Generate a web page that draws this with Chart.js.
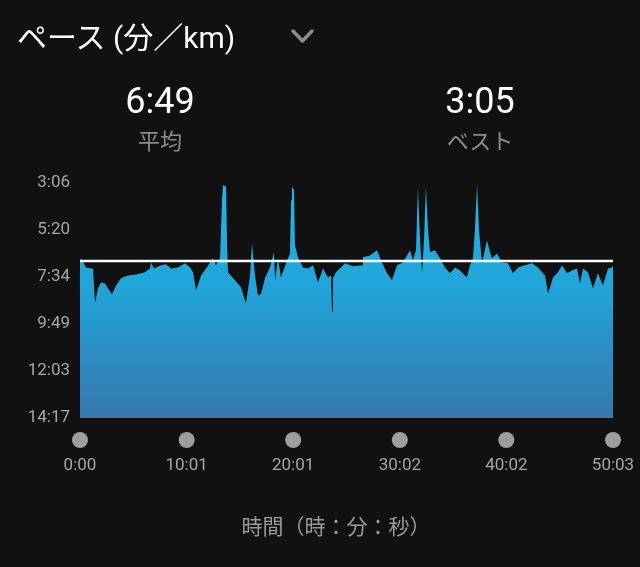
<!DOCTYPE html>
<html>
<head>
<meta charset="utf-8">
<script src="https://cdn.jsdelivr.net/npm/chart.js"></script>
<style>
	html, body { margin: 0; padding: 0; background: #111111; width: 640px; height: 567px; overflow: hidden; }
	body { position: relative; font-family: Roboto, "Noto Sans CJK JP", sans-serif; }
	#paceChart { position: absolute; left: 0; top: 0; }
	.txt { position: absolute; white-space: nowrap; }
	#title { left: 17px; top: 17px; font-size: 30px; line-height: 42px; color: #ffffff; }
	.big { font-size: 36px; line-height: 44px; top: 79px; color: #ffffff; width: 160px; text-align: center; }
	.sub { font-size: 22px; line-height: 30px; top: 127px; color: #8c8c8c; width: 160px; text-align: center; }
	#xTitle { font-size: 21px; line-height: 30px; top: 512px; left: 176px; width: 320px; text-align: center; color: #9a9a9a; }
</style>
</head>
<body>
<canvas id="paceChart" width="640" height="567"></canvas>
<div class="txt" id="title">ペース (分／km)</div>
<svg style="position:absolute;left:0;top:0" width="640" height="60">
	<polyline points="293,31 302.5,41 312,31" fill="none" stroke="#8c8c8c" stroke-width="3.5" stroke-linecap="round" stroke-linejoin="round"/>
</svg>
<div class="txt big" style="left:80px">6:49</div>
<div class="txt sub" style="left:80px">平均</div>
<div class="txt big" style="left:400px">3:05</div>
<div class="txt sub" style="left:400px">ベスト</div>
<div class="txt" id="xTitle">時間（時：分：秒）</div>
<script>
	//==============================================================
	//							DATA
	//==============================================================
	// elapsed time (seconds)
	var timeSec = [
		0, 6, 34, 62, 73, 85, 101, 118, 141, 158,
		180, 203, 231, 270, 316, 366, 394, 400, 417, 456,
		485, 513, 552, 592, 620, 637, 654, 682, 710, 749,
		766, 789, 800, 806, 823, 828, 834, 873, 907, 935,
		958, 969, 986, 1003, 1020, 1042, 1070, 1093, 1099, 1116,
		1132, 1161, 1183, 1189, 1194, 1206, 1211, 1228, 1256, 1285,
		1313, 1341, 1369, 1397, 1414, 1420, 1425, 1442, 1470, 1493,
		1538, 1589, 1594, 1634, 1673, 1701, 1730, 1758, 1786, 1820,
		1859, 1876, 1893, 1904, 1916, 1927, 1938, 1949, 1961, 1972,
		2000, 2028, 2056, 2085, 2113, 2141, 2180, 2197, 2214, 2225,
		2237, 2248, 2265, 2293, 2310, 2321, 2349, 2378, 2411, 2440,
		2468, 2507, 2547, 2580, 2620, 2637, 2665, 2693, 2716, 2744,
		2772, 2800, 2817, 2834, 2862, 2890, 2918, 2946, 2975, 2997,
		3003
	];

	// pace (seconds per km)
	var paceSec = [
		413, 401, 427, 430, 430, 527, 487, 470, 473, 487,
		504, 479, 458, 450, 447, 441, 430, 413, 430, 421,
		418, 430, 427, 415, 427, 441, 493, 450, 430, 401,
		421, 401, 235, 192, 197, 350, 441, 464, 484, 530,
		450, 358, 450, 507, 502, 458, 427, 384, 464, 401,
		456, 415, 387, 235, 197, 206, 364, 398, 427, 430,
		421, 470, 430, 456, 450, 556, 458, 441, 427, 415,
		424, 421, 398, 393, 378, 413, 444, 464, 421, 413,
		378, 407, 378, 200, 350, 444, 350, 197, 321, 384,
		378, 401, 427, 444, 427, 436, 456, 421, 401, 321,
		189, 321, 415, 350, 384, 401, 387, 413, 415, 444,
		427, 421, 415, 427, 450, 502, 456, 441, 421, 444,
		436, 430, 473, 430, 441, 487, 444, 479, 430, 427,
		421
	];

	var avgPace = 409;	// 6:49
	var xTickValues = [0, 601, 1201, 1802, 2402, 3003];
	var yTickValues = [186, 320, 454, 589, 723, 857];

	// m:ss
	function fmt(s) {
		var m = Math.floor(s / 60), r = Math.round(s % 60);
		return m + ':' + (r < 10 ? '0' : '') + r;
	}

	var paceData = timeSec.map(function(t, i) { return { x: t, y: paceSec[i] }; });
	var avgData = [
		{ x: xTickValues[0], y: avgPace },
		{ x: xTickValues[xTickValues.length - 1], y: avgPace }
	];

	//==============================================================
	//							PLUGINS
	//==============================================================
	// grey dots under each x tick
	var tickDots = {
		id: 'tickDots',
		afterDraw: function(chart) {
			var ctx = chart.ctx;
			var xs = chart.scales.x;
			var y = chart.chartArea.bottom + 22;
			ctx.save();
			ctx.fillStyle = '#9e9e9e';
			xs.ticks.forEach(function(t) {
				ctx.beginPath();
				ctx.arc(xs.getPixelForValue(t.value), y, 8, 0, Math.PI * 2);
				ctx.fill();
			});
			ctx.restore();
		}
	};

	//==============================================================
	//							CHART
	//==============================================================
	var paceChart = new Chart(document.getElementById('paceChart'), {
		type: 'line',
		data: {
			datasets: [{
				data: avgData,
				borderColor: '#ffffff',
				borderWidth: 2.5,
				pointRadius: 0,
				fill: false,
				order: 0
			}, {
				data: paceData,
				borderWidth: 0,
				pointRadius: 0,
				tension: 0,
				fill: 'start',
				backgroundColor: function(context) {
					var area = context.chart.chartArea;
					if (!area) return null;
					var g = context.chart.ctx.createLinearGradient(0, area.top, 0, area.bottom);
					g.addColorStop(0, '#24b4e4');
					g.addColorStop(0.45, '#22a4d9');
					g.addColorStop(1, '#3677ad');
					return g;
				},
				order: 1
			}]
		},
		options: {
			responsive: false,
			animation: false,
			layout: {
				padding: { top: 183, right: 27, bottom: 0, left: 0 }
			},
			plugins: {
				legend: { display: false },
				tooltip: { enabled: false }
			},
			scales: {
				x: {
					type: 'linear',
					min: 0,
					max: 3003,
					grid: { display: false, drawTicks: false },
					border: { display: false },
					afterBuildTicks: function(scale) {
						scale.ticks = xTickValues.map(function(v) { return { value: v }; });
					},
					afterFit: function(scale) { scale.height = 149; },
					ticks: {
						autoSkip: false,
						maxRotation: 0,
						padding: 0,
						color: '#a6a6a6',
						// tall line box pushes the label down below the dots
						font: { family: 'Roboto', size: 17, lineHeight: '96px' },
						callback: function(v) { return fmt(v); }
					}
				},
				y: {
					type: 'linear',
					reverse: true,
					min: 186,
					max: 857,
					grid: { display: false, drawTicks: false },
					border: { display: false },
					afterBuildTicks: function(scale) {
						scale.ticks = yTickValues.map(function(v) { return { value: v }; });
					},
					afterFit: function(scale) { scale.width = 80; },
					ticks: {
						padding: 10,
						color: '#a6a6a6',
						font: { family: 'Roboto', size: 17 },
						callback: function(v) { return fmt(v); }
					}
				}
			}
		},
		plugins: [tickDots]
	});
</script>
</body>
</html>
